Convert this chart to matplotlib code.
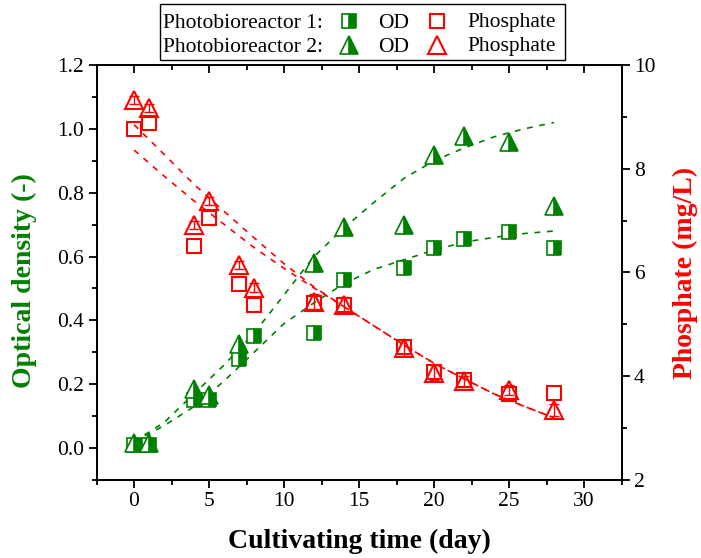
import numpy as np
import matplotlib
matplotlib.use("Agg")
import matplotlib.pyplot as plt
from matplotlib.lines import Line2D
from matplotlib.patches import Rectangle
from matplotlib.ticker import MultipleLocator

plt.rcParams['font.family'] = ['Liberation Serif', 'DejaVu Serif']

# === Data ===
days = [0, 1, 4, 5, 7, 8, 12, 14, 18, 20, 22, 25, 28]
od_pbr1 = [0.01, 0.01, 0.15, 0.15, 0.28, 0.35, 0.36, 0.525, 0.565, 0.627, 0.655, 0.677, 0.628]
od_pbr2 = [0.015, 0.015, 0.185, 0.166, 0.325, np.nan, 0.579, 0.694, 0.699, 0.918, 0.978, 0.96, 0.758]
phos_pbr1 = [8.77, 8.88, 6.52, 7.06, 5.78, 5.37, 5.41, 5.37, 4.57, 4.09, 3.93, 3.65, 3.68]
phos_pbr2 = [9.33, 9.17, 6.92, 7.38, 6.14, 5.71, 5.44, 5.37, 4.54, 4.07, 3.90, 3.73, 3.35]
phos_pbr2_err = [0.08, 0.08, 0.08, 0.08, 0.08, 0.08, 0.15, 0.15, 0.15, 0.15, 0.1, 0.1, 0.12]

# fitted (dashed) curves, read every 2 days
fit_days = [0, 2, 4, 6, 8, 10, 12, 14, 16, 18, 20, 22, 24, 26, 28]
fit_od1 = [0.02, 0.07, 0.13, 0.21, 0.30, 0.39, 0.455, 0.515, 0.56, 0.59, 0.62, 0.645, 0.66, 0.672, 0.68]
fit_od2 = [0.02, 0.08, 0.17, 0.26, 0.36, 0.48, 0.60, 0.69, 0.77, 0.845, 0.90, 0.94, 0.975, 1.0, 1.02]
fit_phos1 = [8.85, 8.28, 7.70, 7.18, 6.67, 6.17, 5.72, 5.34, 4.97, 4.60, 4.25, 3.95, 3.66, 3.42, 3.20]
fit_phos2 = [8.36, 7.86, 7.38, 6.93, 6.48, 6.08, 5.70, 5.34, 4.97, 4.60, 4.25, 3.95, 3.66, 3.42, 3.20]

green = '#008000'
red = '#FF0000'

fig = plt.figure(figsize=(7.01, 5.58), dpi=100)
ax = fig.add_axes([0.1377, 0.1398, 0.749, 0.7437])
ax2 = ax.twinx()

# === OD (left axis) ===
dash = dict(ls=(0, (3.5, 4)), lw=1.2)
ax.plot(fit_days, fit_od1, color=green, zorder=1, **dash)
ax.plot(fit_days, fit_od2, color=green, zorder=1, **dash)
ax.plot(days, od_pbr1, ls='none', marker='s', ms=9.5, fillstyle='right',
        mfc=green, mfcalt='white', mec=green, mew=1.2, zorder=3)
ax.plot(days, od_pbr2, ls='none', marker='^', ms=12.5, fillstyle='right',
        mfc=green, mfcalt='white', mec=green, mew=1.2, zorder=3)

# === Phosphate (right axis) ===
ax2.plot(fit_days, fit_phos1, color=red, zorder=1, **dash)
ax2.plot(fit_days, fit_phos2, color=red, zorder=1, **dash)
ax2.errorbar(days, phos_pbr2, yerr=phos_pbr2_err, fmt='none', ecolor=red,
             elinewidth=1.0, capsize=3.5, capthick=1.0, zorder=2)
ax2.plot(days, phos_pbr1, ls='none', marker='s', ms=9.5, mfc='none',
         mec=red, mew=1.5, zorder=3)
ax2.plot(days, phos_pbr2, ls='none', marker='^', ms=12.5, mfc='none',
         mec=red, mew=1.5, zorder=3)

# === Axes styling ===
ax.set_xlim(-2.5, 32.5)
ax.set_ylim(-0.1, 1.2)
ax2.set_ylim(2, 10)
ax.xaxis.set_major_locator(MultipleLocator(5))
ax.xaxis.set_minor_locator(MultipleLocator(2.5))
ax.yaxis.set_minor_locator(MultipleLocator(0.1))
ax.set_yticks(np.arange(0, 1.21, 0.2))
ax.set_yticklabels(['0.0', '0.2', '0.4', '0.6', '0.8', '1.0', '1.2'])
ax2.yaxis.set_major_locator(MultipleLocator(2))
ax2.yaxis.set_minor_locator(MultipleLocator(1))

for a in (ax, ax2):
    for s in a.spines.values():
        s.set_linewidth(1.3)
ax.tick_params(axis='both', which='major', direction='out', length=6, width=1.3,
               labelsize=15.5, pad=3)
ax.tick_params(axis='both', which='minor', direction='out', length=3.5, width=1.3)
ax.tick_params(axis='x', which='both', top=False)
ax2.tick_params(axis='y', which='major', direction='out', length=6, width=1.3,
                labelsize=15.5, pad=3)
ax2.tick_params(axis='y', which='minor', direction='out', length=3.5, width=1.3)

# top ticks point inward: draw them via a secondary x axis
top = ax.secondary_xaxis('top')
top.xaxis.set_major_locator(MultipleLocator(5))
top.xaxis.set_minor_locator(MultipleLocator(2.5))
top.tick_params(which='major', direction='in', length=6, width=1.3, labeltop=False)
top.tick_params(which='minor', direction='in', length=3.5, width=1.3)
top.spines['top'].set_linewidth(1.3)

ax.set_xlabel('Cultivating time (day)', fontsize=20, fontweight='bold')
ax.set_ylabel('Optical density (-)', fontsize=20, fontweight='bold', color=green)
ax2.set_ylabel('Phosphate (mg/L)', fontsize=20, fontweight='bold', color=red)
ax.xaxis.set_label_coords(0.5, -0.118)
ax.yaxis.set_label_coords(-0.113, 0.48)
ax2.yaxis.set_label_coords(1.098, 0.5)

# === Legend box drawn by hand ===
W, H = 701, 558
def fx(px):
    return px / W
def fy(py):
    return 1 - py / H

fig.add_artist(Rectangle((fx(160), fy(60)), fx(565) - fx(160), fy(4) - fy(60),
                         transform=fig.transFigure, fill=False, lw=1.0, ec='black'))
rows = [(21, 'Photobioreactor 1:', 's', 10.5), (45, 'Photobioreactor 2:', '^', 13)]
for yy, name, mk, ms in rows:
    fig.text(fx(163), fy(yy + 2), name, fontsize=15.5, va='center', ha='left')
    fig.add_artist(Line2D([fx(349)], [fy(yy)], transform=fig.transFigure, marker=mk,
                          ms=ms, fillstyle='right', mfc=green, mfcalt='white',
                          mec=green, mew=1.2, ls='none'))
    fig.text(fx(378), fy(yy + 2), 'OD', fontsize=15.5, va='center', ha='left')
    fig.add_artist(Line2D([fx(437)], [fy(yy)], transform=fig.transFigure, marker=mk,
                          ms=ms, mfc='none', mec=red, mew=1.5, ls='none'))
    fig.text(fx(467), fy(yy + 2), 'Phosphate', fontsize=15.5, va='center', ha='left')

fig.savefig('out.png', dpi=100)
